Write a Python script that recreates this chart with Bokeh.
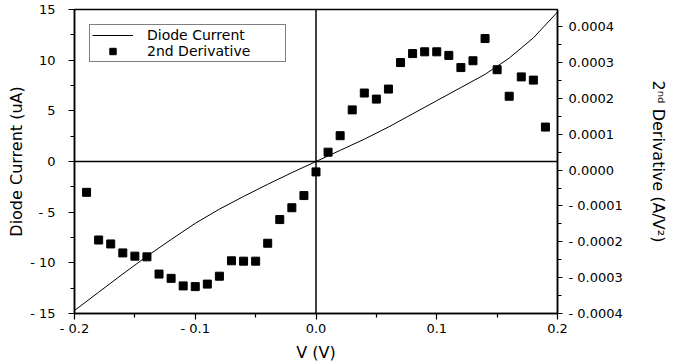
import numpy as np
from bokeh.plotting import figure
from bokeh.models import Range1d, LinearAxis, FixedTicker, CustomJSTickFormatter, Span
from bokeh.embed import file_html
from bokeh.resources import INLINE

# Diode current (uA) vs voltage (V)
v_line = [-0.20, -0.18, -0.16, -0.14, -0.12, -0.10, -0.08, -0.06, -0.04, -0.02, 0.00,
          0.02, 0.04, 0.06, 0.08, 0.10, 0.12, 0.14, 0.16, 0.18, 0.20]
i_line = [-14.7, -12.9, -11.1, -9.35, -7.7, -6.1, -4.7, -3.45, -2.25, -1.1, 0.0,
          1.1, 2.2, 3.4, 4.7, 6.0, 7.3, 8.6, 10.2, 12.2, 14.75]

# 2nd derivative (A/V^2)
v_deriv = [-0.19, -0.18, -0.17, -0.16, -0.15, -0.14, -0.13, -0.12, -0.11, -0.10,
           -0.09, -0.08, -0.07, -0.06, -0.05, -0.04, -0.03, -0.02, -0.01, 0.00,
           0.01, 0.02, 0.03, 0.04, 0.05, 0.06, 0.07, 0.08, 0.09, 0.10,
           0.11, 0.12, 0.13, 0.14, 0.15, 0.16, 0.17, 0.18, 0.19]
d2_deriv = [-0.62e-4, -1.95e-4, -2.06e-4, -2.31e-4, -2.40e-4, -2.42e-4, -2.90e-4, -3.02e-4,
            -3.23e-4, -3.25e-4, -3.18e-4, -2.96e-4, -2.53e-4, -2.54e-4, -2.54e-4, -2.04e-4,
            -1.38e-4, -1.05e-4, -0.71e-4, -0.05e-4,
            0.50e-4, 0.96e-4, 1.68e-4, 2.15e-4, 1.98e-4, 2.26e-4, 3.00e-4, 3.25e-4, 3.30e-4,
            3.30e-4, 3.20e-4, 2.86e-4, 3.05e-4, 3.67e-4, 2.80e-4, 2.06e-4, 2.60e-4, 2.51e-4,
            1.20e-4]

x_ticks = [-0.2, -0.1, 0.0, 0.1, 0.2]
x_minor = [-0.15, -0.05, 0.05, 0.15]
y_ticks = [-15, -10, -5, 0, 5, 10, 15]
y_minor = [-12.5, -7.5, -2.5, 2.5, 7.5, 12.5]
r_ticks = [-0.0004, -0.0003, -0.0002, -0.0001, 0.0, 0.0001, 0.0002, 0.0003, 0.0004]
r_minor = [-0.00035, -0.00025, -0.00015, -0.00005, 0.00005, 0.00015, 0.00025, 0.00035]

FONT = "DejaVu Sans"
TICK_SIZE = "13px"
LABEL_SIZE = "16px"

p = figure(width=680, height=364, output_backend="svg", toolbar_location=None,
           x_range=Range1d(-0.2, 0.2), y_range=Range1d(-15, 15),
           min_border_left=74, min_border_right=123, min_border_top=9, min_border_bottom=49)
p.background_fill_color = "white"
p.border_fill_color = "white"
p.outline_line_color = "black"
p.outline_line_width = 1.5
p.grid.visible = False

p.extra_y_ranges = {"deriv": Range1d(-0.0004, 0.000448)}

# zero lines
p.add_layout(Span(location=0, dimension="width", line_color="black", line_width=1.5))
p.add_layout(Span(location=0, dimension="height", line_color="black", line_width=1.5))

p.line(v_line, i_line, line_color="black", line_width=1, legend_label="Diode Current")
p.scatter(v_deriv, d2_deriv, marker="square", size=8, fill_color="black", line_color="black",
          y_range_name="deriv", legend_label="2nd Derivative")

right = LinearAxis(y_range_name="deriv")
p.add_layout(right, "right")

def style_axis(ax):
    ax.axis_line_color = "black"
    ax.axis_line_width = 1.5
    ax.major_tick_line_color = "black"
    ax.minor_tick_line_color = "black"
    ax.major_tick_line_width = 1.2
    ax.minor_tick_line_width = 1.2
    ax.major_tick_in = 0
    ax.minor_tick_in = 0
    ax.major_label_text_font = FONT
    ax.major_label_text_font_size = TICK_SIZE
    ax.major_label_text_color = "black"
    ax.axis_label_text_font = FONT
    ax.axis_label_text_font_size = LABEL_SIZE
    ax.axis_label_text_font_style = "normal"
    ax.axis_label_text_color = "black"

xa = p.xaxis[0]
style_axis(xa)
xa.ticker = FixedTicker(ticks=x_ticks, minor_ticks=x_minor)
xa.formatter = CustomJSTickFormatter(code="return (tick < -1e-9 ? '- ' : '') + Math.abs(tick).toFixed(1);")
xa.major_tick_out = 6
xa.minor_tick_out = 4
xa.major_label_standoff = 1
xa.axis_label = "V (V)"
xa.axis_label_standoff = 4

ya = p.yaxis[0]
style_axis(ya)
ya.ticker = FixedTicker(ticks=y_ticks, minor_ticks=y_minor)
ya.formatter = CustomJSTickFormatter(code="return (tick < -1e-9 ? '- ' : '') + Math.abs(tick).toFixed(0);")
ya.major_tick_out = 6
ya.minor_tick_out = 4
ya.major_label_standoff = 13
ya.axis_label = "Diode Current (uA)"
ya.axis_label_standoff = 1

style_axis(right)
right.ticker = FixedTicker(ticks=r_ticks, minor_ticks=r_minor)
right.formatter = CustomJSTickFormatter(code="return (tick < -1e-12 ? '- ' : '') + Math.abs(tick).toFixed(4);")
right.major_tick_out = 5
right.minor_tick_out = 4
right.major_label_standoff = 6
right.axis_label = "2\u207f\u1d48 Derivative (A/V\u00b2)"
right.axis_label_standoff = 23

lg = p.legend[0]
lg.location = "top_left"
lg.margin = 15
lg.padding = 2
lg.spacing = 0
lg.glyph_width = 41
lg.glyph_height = 16
lg.label_height = 16
lg.label_width = 136
lg.label_standoff = 14
lg.label_text_font = FONT
lg.label_text_font_size = "14px"
lg.label_text_color = "black"
lg.border_line_color = "black"
lg.border_line_width = 1
lg.background_fill_color = "white"
lg.background_fill_alpha = 1.0

open("out.html", "w").write(file_html(p, INLINE))
